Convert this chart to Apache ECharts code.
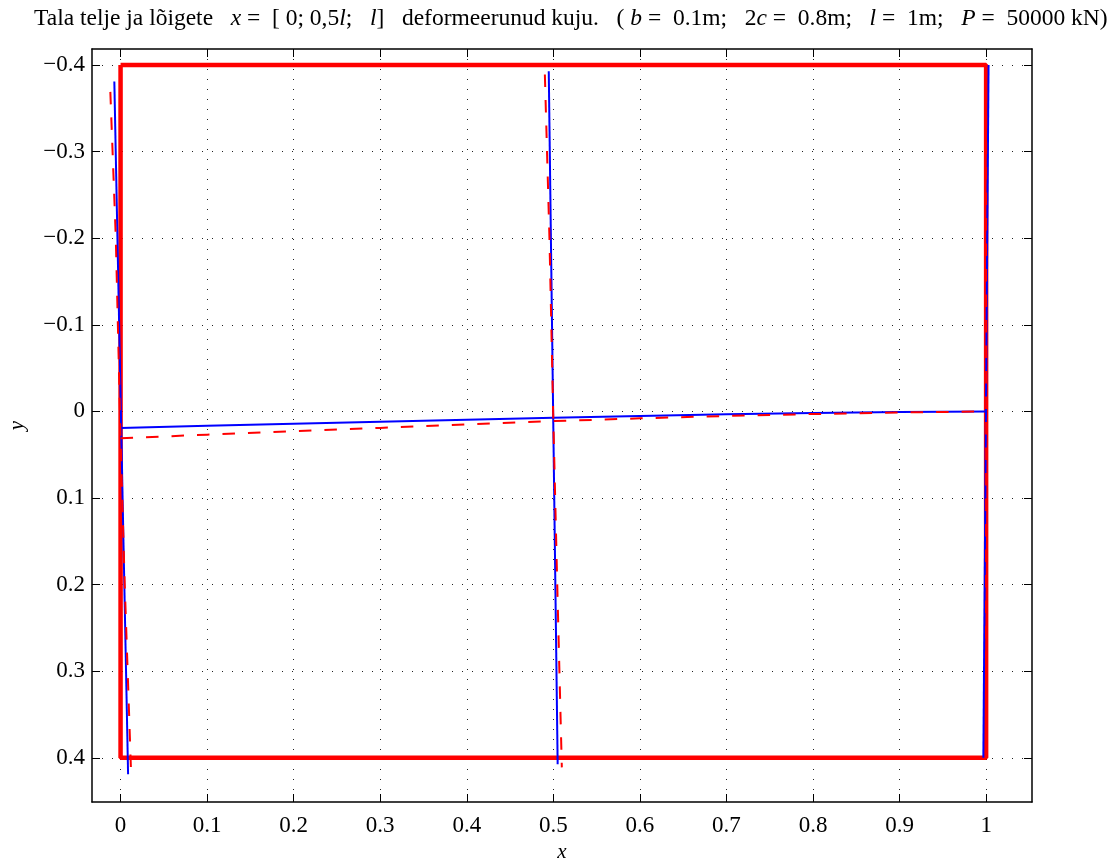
<!DOCTYPE html>
<html>
<head>
<meta charset="utf-8">
<script src="https://cdn.jsdelivr.net/npm/echarts@6/dist/echarts.min.js"></script>
<style>
  html, body { margin: 0; padding: 0; background: #fff; }
  #chart { width: 1119px; height: 861px; }
</style>
</head>
<body>
<div id="chart"></div>
<script>
// tick labels
var xTicks = [0, 0.1, 0.2, 0.3, 0.4, 0.5, 0.6, 0.7, 0.8, 0.9, 1];
var yTicks = [-0.4, -0.3, -0.2, -0.1, 0, 0.1, 0.2, 0.3, 0.4];

// undeformed outline of the beam
var frameX = [0, 1, 1, 0, 0];
var frameY = [-0.4, -0.4, 0.4, 0.4, -0.4];

// deformed axis (blue solid) and deformed axis with shear (red dashed)
var axisX = [0, 0.1, 0.2, 0.3, 0.4, 0.5, 0.6, 0.7, 0.8, 0.9, 1];
var blueAxisY = [0.019, 0.0166, 0.0142, 0.0118, 0.0095, 0.0073, 0.0052, 0.0034, 0.0019, 0.0008, 0];
var redAxisY = [0.031, 0.0268, 0.0229, 0.0190, 0.0151, 0.0112, 0.0080, 0.0052, 0.0030, 0.0012, 0];

// sections x = 0, 0.5l, l  (blue solid)
var blueSec0X = [-0.0072, 0.0087];
var blueSec0Y = [-0.381, 0.419];
var blueSec5X = [0.4947, 0.5050];
var blueSec5Y = [-0.3927, 0.4073];
var blueSec1X = [1.0028, 0.9968];
var blueSec1Y = [-0.4, 0.4];

// sections (red dashed)
var redSec0X = [-0.0118, -0.0055, 0.0, 0.0048, 0.0121];
var redSec0Y = [-0.369, -0.2, 0.031, 0.2, 0.416];
var redSec5X = [0.4902, 0.4955, 0.5, 0.5045, 0.5098];
var redSec5Y = [-0.389, -0.2, 0.011, 0.2, 0.411];
var redSec1X = [1, 1];
var redSec1Y = [-0.4, 0.4];

function pairs(xs, ys) {
  return xs.map(function (x, i) { return [x, ys[i]]; });
}

var font = 'Liberation Serif';
var xMin = -0.033, xMax = 1.053;
var yMin = -0.4185, yMax = 0.4510;

function fmt(v) {
  return String(v).replace('-', '\u2212');
}

var gridLine = { show: true, lineStyle: { color: '#222', width: 1, type: [1, 9] } };

var chart = echarts.init(document.getElementById('chart'));

function lineSeries(data, color, width, dashed) {
  return {
    type: 'line',
    data: data,
    showSymbol: false,
    symbol: 'none',
    lineStyle: { color: color, width: width, type: dashed ? [12.5, 13] : 'solid' },
    z: 3,
    silent: true
  };
}

var tr = { fontFamily: font, fontSize: 23.5, fontWeight: 'normal', color: '#000' };
var ti = { fontFamily: font, fontSize: 23.5, fontWeight: 'normal', fontStyle: 'italic', color: '#000' };

var option = {
  animation: false,
  backgroundColor: '#fff',
  title: {
    text: '{r|Tala telje ja lõigete   }{i|x}{r| =  [ 0; 0,5}{i|l}{r|;   }{i|l}{r|]   deformeerunud kuju.   ( }{i|b}{r| =  0.1m;   2}{i|c}{r| =  0.8m;   }{i|l}{r| =  1m;   }{i|P}{r| =  50000 kN)}',
    left: 29,
    top: 2,
    textStyle: { fontWeight: 'normal', rich: { r: tr, i: ti } }
  },
  grid: { left: 92, right: 87, top: 49, bottom: 59, containLabel: false, outerBoundsMode: 'none' },
  xAxis: [
    {
      type: 'value', min: xMin, max: xMax, position: 'bottom',
      name: 'x', nameLocation: 'middle', nameGap: 40,
      nameTextStyle: { fontFamily: font, fontSize: 21, fontStyle: 'italic', color: '#000' },
      axisLine: { show: true, onZero: false, lineStyle: { color: '#000', width: 1.5 } },
      axisTick: { show: true, inside: true, length: 8, customValues: xTicks, lineStyle: { color: '#000' } },
      axisLabel: { customValues: xTicks, formatter: fmt, fontFamily: font, fontSize: 23, color: '#000', margin: 12 },
      splitLine: gridLine
    },
    {
      type: 'value', min: xMin, max: xMax, position: 'top',
      axisLine: { show: true, onZero: false, lineStyle: { color: '#000', width: 1.5 } },
      axisTick: { show: true, inside: true, length: 8, customValues: xTicks, lineStyle: { color: '#000' } },
      axisLabel: { show: false },
      splitLine: { show: false }
    }
  ],
  yAxis: [
    {
      type: 'value', min: yMin, max: yMax, inverse: true, position: 'left',
      name: 'y', nameLocation: 'middle', nameGap: 64, nameRotate: 90,
      nameTextStyle: { fontFamily: font, fontSize: 21, fontStyle: 'italic', color: '#000' },
      axisLine: { show: true, onZero: false, lineStyle: { color: '#000', width: 1.5 } },
      axisTick: { show: true, inside: true, length: 8, customValues: yTicks, lineStyle: { color: '#000' } },
      axisLabel: { customValues: yTicks, formatter: fmt, fontFamily: font, fontSize: 23, color: '#000', margin: 7 },
      splitLine: gridLine
    },
    {
      type: 'value', min: yMin, max: yMax, inverse: true, position: 'right',
      axisLine: { show: true, onZero: false, lineStyle: { color: '#000', width: 1.5 } },
      axisTick: { show: true, inside: true, length: 8, customValues: yTicks, lineStyle: { color: '#000' } },
      axisLabel: { show: false },
      splitLine: { show: false }
    }
  ],
  series: [
    lineSeries(pairs(frameX, frameY), '#ff0000', 4.5, false),
    lineSeries(pairs(axisX, blueAxisY), '#0000ff', 2, false),
    lineSeries(pairs(blueSec0X, blueSec0Y), '#0000ff', 2, false),
    lineSeries(pairs(blueSec5X, blueSec5Y), '#0000ff', 2, false),
    lineSeries(pairs(blueSec1X, blueSec1Y), '#0000ff', 2, false),
    lineSeries(pairs(axisX, redAxisY), '#ff0000', 2, true),
    lineSeries(pairs(redSec0X, redSec0Y), '#ff0000', 2, true),
    lineSeries(pairs(redSec5X, redSec5Y), '#ff0000', 2, true),
    lineSeries(pairs(redSec1X, redSec1Y), '#ff0000', 2, true)
  ]
};

chart.setOption(option);
</script>
</body>
</html>
